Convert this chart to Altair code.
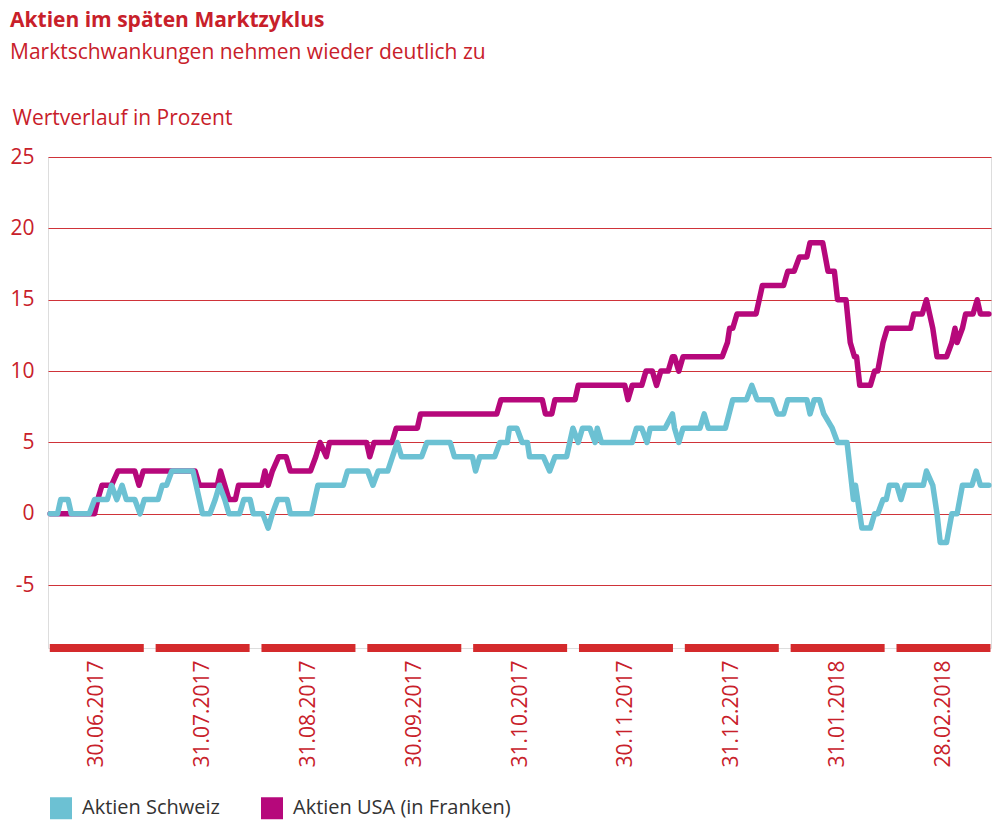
import json
import altair as alt
import pandas as pd

# ---------------- data ----------------
# x position in months since start (0 = beginning of the first month shown)
tick_labels = ["30.06.2017", "31.07.2017", "31.08.2017", "30.09.2017", "31.10.2017",
               "30.11.2017", "31.12.2017", "31.01.2018", "28.02.2018"]

series_names = ["Aktien Schweiz", "Aktien USA (in Franken)"]

x_ch = [0.06, 0.13, 0.16, 0.23, 0.26, 0.43, 0.48, 0.60, 0.64, 0.69, 0.74, 0.78, 0.86, 0.91, 0.95,
        1.08, 1.12, 1.16, 1.21, 1.41, 1.50, 1.57, 1.62, 1.66, 1.71, 1.75, 1.85, 1.89, 1.95, 1.98,
        2.07, 2.12, 2.16, 2.21, 2.30, 2.33, 2.53, 2.59, 2.83, 2.87, 3.06, 3.11, 3.16, 3.25, 3.34,
        3.38, 3.57, 3.62, 3.84, 3.88, 4.05, 4.08, 4.12, 4.26, 4.31, 4.38, 4.40, 4.47, 4.52, 4.57,
        4.59, 4.72, 4.78, 4.83, 4.94, 4.97, 5.00, 5.05, 5.09, 5.16, 5.21, 5.23, 5.27, 5.56, 5.60,
        5.65, 5.70, 5.73, 5.87, 5.94, 5.96, 6.00, 6.04, 6.20, 6.24, 6.28, 6.44, 6.51, 6.64, 6.69,
        6.74, 6.88, 6.93, 6.99, 7.03, 7.21, 7.24, 7.28, 7.33, 7.37, 7.45, 7.50, 7.59, 7.65, 7.67,
        7.73, 7.81, 7.85, 7.88, 7.93, 7.96, 7.99, 8.06, 8.10, 8.14, 8.31, 8.34, 8.40, 8.44, 8.47,
        8.53, 8.58, 8.63, 8.68, 8.77, 8.81, 8.85, 8.93]
v_ch = [0, 0, 1, 1, 0, 0, 1, 1, 2, 1, 2, 1, 1, 0, 1,
        1, 2, 2, 3, 3, 0, 0, 1, 2, 1, 0, 0, 1, 1, 0,
        0, -1, 0, 1, 1, 0, 0, 2, 2, 3, 3, 2, 3, 3, 5,
        4, 4, 5, 5, 4, 4, 3, 4, 4, 5, 5, 6, 6, 5, 5,
        4, 4, 3, 4, 4, 5, 6, 5, 6, 6, 5, 6, 5, 5, 6,
        6, 5, 6, 6, 7, 6, 5, 6, 6, 7, 6, 6, 8, 8, 9,
        8, 8, 7, 7, 8, 8, 7, 8, 8, 7, 6, 5, 5, 1, 2,
        -1, -1, 0, 0, 1, 1, 2, 2, 1, 2, 2, 3, 2, 0, -2,
        -2, 0, 0, 2, 2, 3, 2, 2]

x_us = [0.06, 0.48, 0.51, 0.55, 0.64, 0.70, 0.86, 0.90, 0.94, 1.43, 1.47, 1.64, 1.67, 1.71, 1.75,
        1.81, 1.84, 2.06, 2.09, 2.12, 2.16, 2.22, 2.29, 2.33, 2.52, 2.57, 2.61, 2.67, 2.70, 3.05,
        3.08, 3.12, 3.29, 3.33, 3.53, 3.56, 4.28, 4.32, 4.71, 4.74, 4.80, 4.83, 5.02, 5.05, 5.49,
        5.52, 5.56, 5.65, 5.69, 5.75, 5.79, 5.83, 5.90, 5.94, 5.96, 6.00, 6.04, 6.41, 6.46, 6.48,
        6.51, 6.55, 6.73, 6.79, 6.99, 7.03, 7.09, 7.14, 7.21, 7.24, 7.36, 7.41, 7.47, 7.50, 7.58,
        7.62, 7.66, 7.68, 7.71, 7.81, 7.85, 7.88, 7.93, 7.97, 8.19, 8.22, 8.30, 8.34, 8.37, 8.40,
        8.44, 8.53, 8.58, 8.61, 8.63, 8.68, 8.71, 8.78, 8.82, 8.85, 8.93]
v_us = [0, 0, 1, 2, 2, 3, 3, 2, 3, 3, 2, 2, 3, 2, 1,
        1, 2, 2, 3, 2, 3, 4, 4, 3, 3, 4, 5, 4, 5, 5,
        4, 5, 5, 6, 6, 7, 7, 8, 8, 7, 7, 8, 8, 9, 9,
        8, 9, 9, 10, 10, 9, 10, 10, 11, 11, 10, 11, 11, 12, 13,
        13, 14, 14, 16, 16, 17, 17, 18, 18, 19, 19, 17, 17, 15, 15,
        12, 11, 11, 9, 9, 10, 10, 12, 13, 13, 14, 14, 15, 14, 13,
        11, 11, 12, 13, 12, 13, 14, 14, 15, 14, 14]

y_ticks = [-5, 0, 5, 10, 15, 20, 25]

# ---------------- styling ----------------
RED = "#c8202a"
GRID = "#cf3339"
SEG = "#d42a2c"
COLORS = ["#6cc1d3", "#b6087b"]
FONT = "Open Sans"
W, H = 943, 491

lines = pd.concat([
    pd.DataFrame({"Monat": x_ch, "Wert": v_ch, "Serie": series_names[0]}),
    pd.DataFrame({"Monat": x_us, "Wert": v_us, "Serie": series_names[1]}),
])
months = pd.DataFrame({"i": list(range(len(tick_labels))), "Label": tick_labels})

x_scale = alt.Scale(domain=[0.04, 8.95], nice=False, zero=False)
y_scale = alt.Scale(domain=[-9.4, 25], nice=False, zero=False)
color_scale = alt.Scale(domain=series_names, range=COLORS)

label_expr = json.dumps(tick_labels) + "[round(datum.value - 0.5)]"

x_axis = alt.Axis(values=[i + 0.5 for i in range(len(tick_labels))], labelExpr=label_expr,
                  labelAngle=-90, labelFontSize=21, labelColor=RED, labelFont=FONT,
                  labelPadding=12, domain=False, ticks=False, grid=False, title=None,
                  labelOverlap=False)
y_axis = alt.Axis(values=y_ticks, labelExpr="'' + datum.value", labelFontSize=21,
                  labelColor=RED, labelFont=FONT, labelPadding=14, domain=False, ticks=False,
                  grid=True, gridColor=GRID, gridWidth=1.2, title="Wertverlauf in Prozent",
                  titleAngle=0, titleAlign="left", titleBaseline="alphabetic", titleX=-36,
                  titleY=-33, titleFontSize=21, titleFontWeight="normal", titleColor=RED,
                  titleFont=FONT)

segments = alt.Chart(months).transform_calculate(
    s="datum.i + 0.057", e="datum.i + 0.945"
).mark_rule(strokeWidth=8, color=SEG, strokeCap="butt").encode(
    x=alt.X("s:Q", scale=x_scale, axis=x_axis),
    x2="e:Q",
    y=alt.value(H),
)

color_enc = alt.Color("Serie:N", scale=color_scale, sort=series_names,
                      legend=alt.Legend(title=None, orient="none", legendX=2, legendY=640,
                                        direction="horizontal", symbolType="square",
                                        symbolSize=121, symbolStrokeWidth=11,
                                        labelFontSize=20, labelColor="#333333", labelFont=FONT,
                                        labelOffset=10, columnPadding=24, labelLimit=400))

def line_layer(name):
    return alt.Chart(lines).transform_filter(
        alt.datum.Serie == name
    ).mark_line(strokeWidth=5.5, strokeJoin="round", strokeCap="round").encode(
        x=alt.X("Monat:Q", scale=x_scale, axis=x_axis),
        y=alt.Y("Wert:Q", scale=y_scale, axis=y_axis),
        color=color_enc,
        order="Monat:Q",
    )

chart = alt.layer(segments, line_layer(series_names[1]), line_layer(series_names[0])).properties(
    width=W, height=H,
    title=alt.TitleParams(text="Aktien im späten Marktzyklus",
                          subtitle="Marktschwankungen nehmen wieder deutlich zu",
                          anchor="start", frame="group", dx=-38, offset=44,
                          font=FONT, fontSize=21, fontWeight="bold", color=RED,
                          subtitleFont=FONT, subtitleFontSize=21, subtitleColor=RED,
                          subtitlePadding=11),
    autosize=alt.AutoSizeParams(type="none"),
    padding={"left": 48, "top": 157, "right": 8, "bottom": 182},
).configure_view(stroke=None).configure(background="white")

chart.save("out.html", embed_options={"renderer": "svg", "actions": False})
